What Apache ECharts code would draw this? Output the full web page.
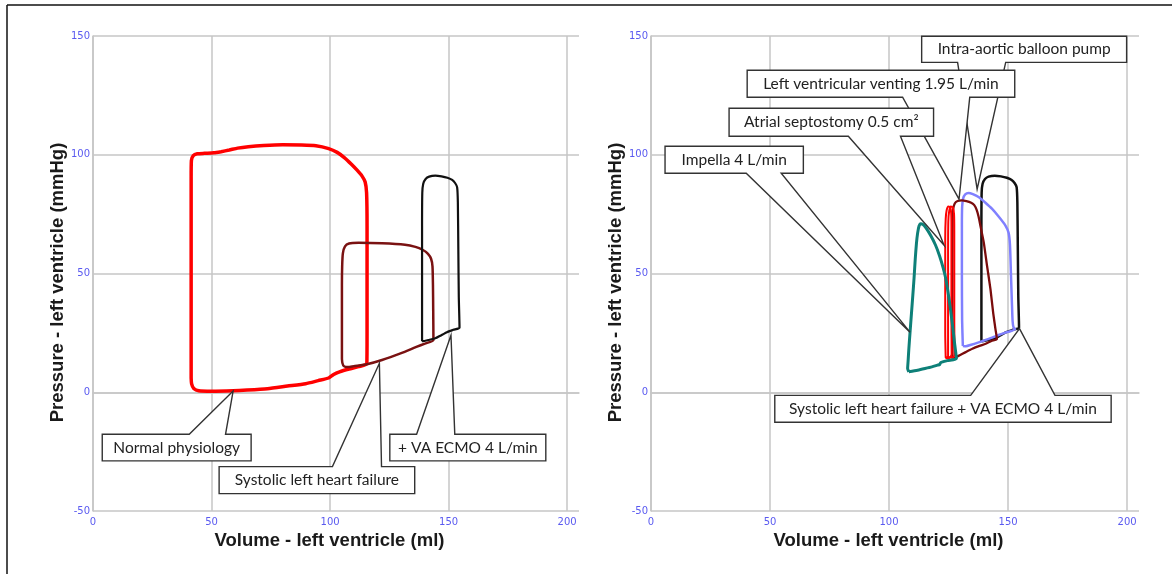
<!DOCTYPE html>
<html><head><meta charset="utf-8">
<script src="https://cdn.jsdelivr.net/npm/echarts@6/dist/echarts.min.js"></script>
<style>html,body{margin:0;padding:0;background:#fff}#c{width:1172px;height:574px}</style>
</head><body><div id="c"></div>
<script>
// ---------- axis ticks ----------
const volumeTicks = [0, 50, 100, 150, 200];
const volumeMax = 205;
const pressureTicks = [-50, 0, 50, 100, 150];

// ---------- pressure-volume loops [volume ml, pressure mmHg] ----------
const normalLoop = [[41.4,6],[41.4,30],[41.4,60],[41.4,90],[41.5,97.5],[42.3,99.6],[44,100.4],[47,100.6],[51,100.8],[54,101.3],[57.5,102],[61,102.8],[65.5,103.4],[72,103.9],[80,104.2],[88,104.1],[94,103.8],[99.4,102.6],[103,101],[106,98.8],[109,96],[111.4,93.5],[113.5,91],[114.8,88.5],[115.4,84],[115.6,70],[115.6,45],[115.6,25],[115.5,12],[112,10.8],[108,9.8],[104,8.6],[101.5,7.5],[99.4,6.0],[95,4.9],[89.7,3.6],[82,2.6],[73.6,1.5],[65,0.9],[59,0.6],[50,0.4],[44.6,0.6],[42.5,1.6],[41.6,3.5],[41.4,6]];
const failureLoop = [[105,14],[105,30],[105,45],[105.1,53],[105.4,58.5],[106.3,61.4],[108,62.6],[112,62.9],[121.9,62.7],[131.6,62.1],[136,61.2],[139,60],[141.3,58.3],[142.6,56.2],[143.2,53],[143.4,45],[143.5,35],[143.6,22],[140,20.5],[136.4,19.1],[130,16.5],[121.9,13.6],[115.5,11.8],[110,11],[107.4,10.6],[105.8,11],[105.2,12.3],[105,14]];
const ecmoLoop = [[138.8,21.5],[138.8,40],[138.8,70],[138.9,84],[139.3,87.8],[140.3,89.8],[141.8,90.8],[144.4,91.2],[147,90.9],[149.5,90.3],[151.5,89.4],[152.8,88],[153.6,86.3],[153.9,80],[154.1,60],[154.3,40],[154.6,27.2],[152,26.3],[149.3,25.3],[146.5,23.8],[144.4,22.7],[141.5,22],[139.1,21.5],[138.8,21.5]];
const impellaLoop = [[108.3,8.6],[112,9.3],[115.1,10],[118,10.7],[120.3,11.4],[121.3,11.7],[121.7,12.5],[124.5,13.3],[128.3,14.2],[127.6,20],[126.8,27],[125.8,35],[124.8,42],[123.8,48],[122.7,52.5],[121.2,57.5],[119.5,62],[117.5,66],[115.5,69.2],[114.2,70.7],[113.3,71],[112.6,70],[112,67],[111.5,62.6],[111,56],[110.5,48],[110,41],[109.4,33],[108.8,25],[108.3,18],[108,13],[107.8,10],[108.3,8.6]];
const septostomyLoop = [[123.8,14.6],[123.6,25],[123.6,45],[123.6,65],[123.8,73],[124.2,76.6],[124.9,78.2],[125.7,77.8],[126.1,75.5],[126.2,70],[126.2,50],[126.2,30],[126.3,16],[125.5,14.4],[124.5,14.3],[123.8,14.6],
  [124.8,15],[124.8,30],[124.8,55],[124.9,72],[125.3,76.5],[126,78.2],[126.8,77.8],[127.3,75],[127.4,68],[127.4,50],[127.4,30],[127.5,16],[127,14.8],[125.6,14.6],[124.8,15]];
const ventingLoop = [[126.6,14.2],[126.6,30],[126.6,55],[126.7,72],[126.9,77],[127.6,79.5],[128.8,80.5],[130.5,80.8],[132.5,80.5],[134.5,79.8],[135.8,78.8],[136.8,76.8],[137.6,74],[138.6,69],[139.8,63],[141.2,53],[142.6,43.4],[143.8,33],[144.7,26.6],[145.3,22.4],[143,21.6],[140.6,20.4],[138,19.5],[135,18.3],[132.2,16.9],[129.5,15.5],[127.5,14.5],[126.6,14.2]];
const iabpLoop = [[131,19.5],[130.7,30],[130.6,50],[130.6,70],[130.7,78],[131.1,81.5],[132,83.3],[133.4,83.9],[135.2,83.4],[137.6,82.2],[140.5,79.8],[143.3,77.2],[146.2,73.8],[148.9,70.2],[150.2,67.2],[150.8,62],[151.2,50],[151.6,38],[151.9,30],[152.3,27.3],[153,26.6],[151,25.7],[148.9,25.1],[146,24.1],[143.3,23],[140.2,21.9],[137.6,21],[134.5,20],[132.3,19.4],[131,19.5]];

// ---------- callout texts ----------
const leftLabels = ['Normal physiology', 'Systolic left heart failure', '+ VA ECMO 4 L/min'];
const rightLabels = ['Systolic left heart failure + VA ECMO 4 L/min', 'Intra-aortic balloon pump', 'Left ventricular venting 1.95 L/min', 'Atrial septostomy 0.5 cm²', 'Impella 4 L/min'];

// ---------- callout layout (data coords: tip, box [x1,yTop,x2,yBottom], wedge base x, side) ----------
const leftCalloutLayout = [
  { tip:[59.1,0.5],  box:[3.9,-17.7,66.7,-28.9],   base:[40.6,55.9],  side:'top' },
  { tip:[120.8,12.2],box:[53.2,-31.3,135.7,-42.7], base:[101,121.7],  side:'top' },
  { tip:[151,24],    box:[125.2,-17.7,191,-28.9],  base:[136.5,152.6],side:'top' }
];
const rightCalloutLayout = [
  { tip:[154.8,26.8],box:[52,-1.3,193.3,-12.6],    base:[134.3,169.7],side:'top' },
  { tip:[137,85.5],  box:[113.7,149.9,199.8,138.9],base:[128.8,149],  side:'bottom' },
  { tip:[129.4,81.3],box:[40.4,135.6,152.8,124.2], base:[105.7,133.9],side:'bottom' },
  { tip:[123.1,61.9],box:[32.8,119.6,118.7,107.8], base:[82.9,104.8], side:'bottom' },
  { tip:[108.8,25.3],box:[5.9,103.6,64,92.2],      base:[40,54.7],    side:'bottom' }
];

const GRID_COLOR = '#c6c6c6';
const LABEL_COLOR = '#5a5af0';
const TITLE_FONT = 'Liberation Sans, Arial, sans-serif';

function xAxis(gridIndex) {
  return {
    type:'value', gridIndex, min: volumeTicks[0], max: volumeMax,
    interval: volumeTicks[1]-volumeTicks[0],
    name:'Volume - left ventricle (ml)', nameLocation:'middle', nameGap:17,
    nameTextStyle:{ fontFamily:TITLE_FONT, fontSize:18.5, fontWeight:'bold', color:'#1a1a1a', padding:[0,13,0,0] },
    axisLine:{ show:true, lineStyle:{ color:GRID_COLOR, width:1.5 } },
    axisTick:{ show:false },
    axisLabel:{ color:LABEL_COLOR, fontSize:10, margin:6, showMaxLabel:false, fontFamily:'DejaVu Sans, sans-serif' },
    splitLine:{ show:true, showMaxLine:false, lineStyle:{ color:GRID_COLOR, width:1.5 } }
  };
}
function yAxis(gridIndex) {
  return {
    type:'value', gridIndex, min: pressureTicks[0], max: pressureTicks[pressureTicks.length-1],
    interval: pressureTicks[1]-pressureTicks[0],
    name:'Pressure - left ventricle (mmHg)', nameLocation:'middle', nameGap:24,
    nameTextStyle:{ fontFamily:TITLE_FONT, fontSize:18.5, fontWeight:'bold', color:'#1a1a1a', padding:[0,18,0,0] },
    axisLine:{ show:true, lineStyle:{ color:GRID_COLOR, width:1.5 } },
    axisTick:{ show:false },
    axisLabel:{ color:LABEL_COLOR, fontSize:10, margin:3, fontFamily:'DejaVu Sans, sans-serif' },
    splitLine:{ show:true, lineStyle:{ color:GRID_COLOR, width:1.5 } }
  };
}
function loop(data, color, width, idx) {
  return { type:'line', data, xAxisIndex:idx, yAxisIndex:idx, showSymbol:false, smooth:0.2,
    lineStyle:{ color, width }, itemStyle:{ color }, z:3, silent:true };
}
function callouts(layout, labels, idx) {
  return {
    type:'custom', xAxisIndex:idx, yAxisIndex:idx, z:5, clip:false, silent:true,
    data: layout.map(c => c.tip),
    renderItem(params, api) {
      const c = layout[params.dataIndex];
      const tl = api.coord([c.box[0], c.box[1]]);
      const br = api.coord([c.box[2], c.box[3]]);
      const tip = api.coord(c.tip);
      const a = api.coord([c.base[0], 0])[0];
      const b = api.coord([c.base[1], 0])[0];
      let pts;
      if (c.side === 'top') {
        pts = [[tl[0],tl[1]],[a,tl[1]],tip,[b,tl[1]],[br[0],tl[1]],[br[0],br[1]],[tl[0],br[1]]];
      } else {
        pts = [[tl[0],tl[1]],[br[0],tl[1]],[br[0],br[1]],[b,br[1]],tip,[a,br[1]],[tl[0],br[1]]];
      }
      return { type:'group', children:[
        { type:'polygon', shape:{ points:pts }, style:{ fill:'#fff', stroke:'#333', lineWidth:1.4 } },
        { type:'text', x:(tl[0]+br[0])/2, y:(tl[1]+br[1])/2,
          style:{ text:labels[params.dataIndex], fill:'#222', font:'15.5px Lato, sans-serif', textAlign:'center', textVerticalAlign:'middle' } }
      ]};
    }
  };
}

const chart = echarts.init(document.getElementById('c'), null, { renderer:'canvas' });
chart.setOption({
  animation:false,
  backgroundColor:'#fff',
  grid:[
    { left:93, top:36, width:486, height:475 },
    { left:651, top:36, width:488, height:475 }
  ],
  xAxis:[xAxis(0), xAxis(1)],
  yAxis:[yAxis(0), yAxis(1)],
  graphic:[
    { type:'line', shape:{ x1:7, y1:5, x2:1172, y2:5 }, style:{ stroke:'#111', lineWidth:1.5 } },
    { type:'line', shape:{ x1:7, y1:5, x2:7, y2:574 }, style:{ stroke:'#111', lineWidth:1.5 } }
  ],
  series:[
    loop(normalLoop, '#ff0000', 3.5, 0),
    loop(failureLoop, '#7a1212', 2.5, 0),
    loop(ecmoLoop, '#111111', 2.2, 0),
    callouts(leftCalloutLayout, leftLabels, 0),
    loop(ecmoLoop, '#111111', 2.5, 1),
    loop(iabpLoop, '#8080ff', 2.5, 1),
    loop(ventingLoop, '#7a0c0c', 2.3, 1),
    loop(septostomyLoop, '#ff0000', 2, 1),
    loop(impellaLoop, '#0e8078', 3, 1),
    callouts(rightCalloutLayout, rightLabels, 1)
  ]
});
</script></body></html>
